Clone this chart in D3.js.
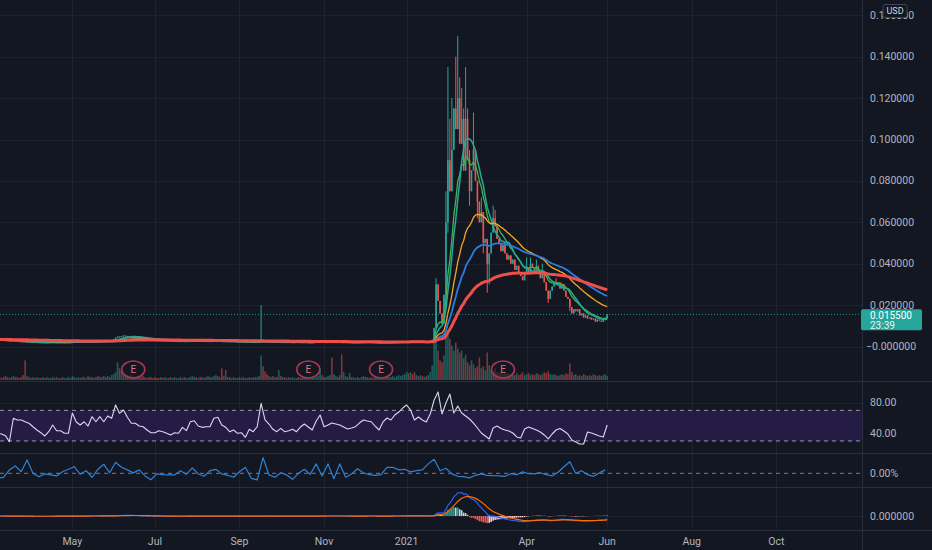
<!DOCTYPE html>
<html><head><meta charset="utf-8">
<script src="https://cdn.jsdelivr.net/npm/d3@7"></script>
<style>html,body{margin:0;padding:0;background:#131722;overflow:hidden}</style>
</head><body><svg id="c" width="932" height="550"></svg>
<script>
// ---------------- DATA ----------------
// daily closes (USD), first bar = 2020-03-09, last bar = 2021-06-01
const closes = [
 .0034,.0033,.0031,.0030,.0029,.0027,.0025,.0027,.0028,.0027,.0026,.0025,.0024,.0023,.0022,.0022,.0021,.0021,.0020,
 .0021,.0020,.0020,.0019,.0019,.0018,.0019,.0020,.0020,.0021,
 .0020,.0020,.0019,.0020,.0019,.0019,.0020,.0019,.0020,.0023,
 .0022,.0022,.0023,.0022,.0023,.0022,.0024,.0023,.0024,.0025,
 .0024,.0026,.0025,.0026,.0025,.0027,.0026,.0027,.0028,
 .0030,.0034,.0042,.0048,.0045,.0050,.0053,.0049,.0051,.0047,
 .0048,.0045,.0046,.0043,.0042,.0040,.0039,.0037,
 .0035,.0034,.0033,.0032,.0031,.0030,.0029,.0029,.0028,.0028,
 .0028,.0027,.0027,.0027,.0026,.0026,.0026,.0025,.0026,.0025,
 .0025,.0026,.0027,.0027,.0028,.0027,.0027,.0026,.0027,.0026,
 .0026,.0026,.0025,.0026,.0027,.0028,.0027,.0026,.0025,.0025,
 .0024,.0024,.0024,.0023,.0024,.0023,.0023,.0023,.0022,.0022,
 .0021,.0022,.0022,.0021,.0022,.0022,.0022,.0023,
 .0028,
 .0026,.0025,.0024,.0023,.0023,.0022,.0022,.0021,.0022,.0021,
 .0021,.0021,.0020,.0021,.0020,.0020,.0020,.0021,.0020,.0020,
 .0019,.0020,.0020,.0019,.0019,.0020,.0021,.0022,.0023,.0024,
 .0022,.0021,.0021,.0021,.0022,.0021,.0021,.0021,.0020,.0021,
 .0020,.0020,.0020,.0019,.0020,.0019,.0019,.0019,.0020,.0020,
 .0021,.0021,.0020,.0021,.0020,.0020,.0019,.0019,.0018,.0018,
 .0019,.0019,.0020,.0019,.0020,.0020,.0021,.0021,.0022,.0022,
 .0023,.0024,.0025,.0026,.0025,.0025,.0023,.0022,.0023,.0022,
 .0022,.0021,.0022,.0021,.0022,
 .0024,.0032,.0090,.0300,.0220,.0160,.0110,.0250,.0600,.0900,
 .0750,.0950,.1150,.1050,.1200,.0980,.1100,.0850,.1100,.0900,
 .0750,.0850,.0950,.0800,.0700,.0600,.0650,.0500,.0520,.0400,
 .0450,.0550,.0620,.0580,.0520,.0500,.0460,.0490,.0450,.0420,
 .0440,.0400,.0420,.0370,.0390,.0360,.0340,.0320,.0350,.0380,
 .0360,.0400,.0380,.0360,.0390,.0350,.0330,.0360,.0310,.0270,
 .0230,.0270,.0290,.0310,.0300,.0310,.0280,.0300,.0270,.0240,
 .0230,.0190,.0160,.0180,.0170,.0180,.0150,.0160,.0140,.0150,
 .0135,.0140,.0130,.0135,.0120,.0130,.0125,.0120,.0130,.0135,
 .0155
];
// notable wick extremes: [bar, high, low]
const wicks = [
 [134,.0200,null],[223,.0330,null],[228,.0750,.0220],[229,.1350,.0550],[230,.1100,null],
 [231,.1200,null],[233,.1400,null],[234,.1500,null],[235,.1300,null],[236,.1250,null],
 [237,.1150,null],[238,.1350,null],[239,.1150,null],[240,.0950,.0680],[242,.1130,null],
 [244,null,.0620],[246,.0720,null],[247,null,.0450],[249,null,.0260],[250,null,.0300],
 [252,.0680,null],[253,.0660,null],[269,.0430,null],[271,.0430,null],[274,.0420,null],
 [277,.0400,null],[280,null,.0210],[284,.0330,null],[291,null,.0170]
];
const volume = [
 3,3,2,3,4,3,2,3,4,3,3,2,3,5,20,4,3,2,3,2,
 3,2,2,3,2,3,2,2,3,2,3,2,2,3,2,2,3,2,4,3,
 2,3,2,3,3,2,4,3,3,2,3,4,3,3,4,3,4,3,5,6,
 8,18,12,10,7,6,5,4,5,4,3,4,3,3,4,3,2,3,3,2,
 3,2,2,3,2,3,2,2,3,2,3,2,2,3,2,3,2,2,3,4,
 3,3,2,3,3,2,3,4,3,3,4,5,4,3,12,4,10,3,3,2,
 3,2,2,3,2,3,2,2,3,2,3,3,3,4,25,14,9,6,4,3,
 4,3,3,10,4,3,3,2,3,2,3,2,2,3,2,3,2,2,3,2,
 3,2,3,4,12,5,3,3,4,5,23,6,4,3,5,26,8,4,3,7,
 3,3,2,3,2,3,4,3,3,2,3,2,3,2,3,2,3,3,4,3,
 3,4,3,4,5,4,5,6,8,7,8,6,8,5,4,5,4,3,4,5,
 8,15,40,45,30,20,18,25,45,50,42,35,30,38,32,28,30,22,26,18,
 15,20,16,12,14,23,12,14,10,28,15,10,9,12,8,7,8,6,7,6,
 7,5,6,5,7,5,6,8,5,6,7,5,6,5,7,6,5,6,8,7,
 9,6,5,6,5,4,5,6,5,7,6,17,8,5,6,4,5,4,6,5,
 4,5,4,6,5,4,5,4,5,6,4
];
// RSI, every 2nd bar
const rsi = [
 40,39.1,36.9,29.0,59.6,57.4,57.4,55.1,53.1,48.6,
 44.3,40.8,36.5,42.1,50.8,43.4,43.4,40,40,66.5,
 54.8,50.8,55.1,49.5,61.7,55.1,61.7,55.1,62.6,59.6,
 77.0,66.1,70.4,60.9,53.1,53.1,49.5,48.6,44.3,40.8,
 40.8,43.4,42.1,40,37.8,40.8,40,47.8,43.4,55.1,
 56.4,49.5,47.8,48.6,48.6,59.6,60.9,50.8,47.8,42.1,
 44.3,40,40.8,34.8,45.2,42.1,48.6,79.2,57.4,52.1,
 45.2,42.1,46.5,42.1,43.4,45.2,42.1,48.2,52.1,48.2,
 44.3,56.1,63.9,48.6,50.8,53.4,52.1,50.8,48.2,45.6,
 46.9,48.6,53.4,57.4,56.1,55.1,49.5,44.3,54.8,60.0,
 57.4,63.9,67.8,73.0,77.0,70.4,57.4,61.3,57.4,54.8,
 65.2,83.5,93.9,65.2,79.6,91.3,66.5,75.6,66.5,62.6,
 58.7,53.4,46.9,40.4,36.5,32.6,46.9,49.5,46.3,44.3,
 43.0,40.4,35.2,33.9,45.6,48.2,46.3,44.3,41.7,37.8,
 32.6,39.1,44.3,46.3,43.0,39.1,31.3,28.6,26.0,26.0,
 41.7,40.4,38.4,36.5,35.2,50.8
];
// second oscillator (%), every 3rd bar
const osc = [
 -2.5,-2.0,1.7,3.7,0.8,6.7,0.0,-1.7,-0.3,-0.8,
 -1.3,0.8,2.0,3.3,-0.5,1.3,-2.0,2.0,4.5,0.3,
 5.5,3.0,1.7,0.2,1.7,-1.3,-3.2,-0.3,-0.7,-0.8,
 -0.8,1.3,-0.5,2.7,-0.2,-1.5,1.3,2.0,-0.3,-1.0,
 -2.0,0.8,3.0,-2.5,-3.3,7.8,-0.8,-2.0,0.3,-0.8,
 -3.0,0.0,2.0,-0.5,4.7,-1.3,4.7,-2.7,4.7,-2.0,
 -0.3,2.3,0.3,-0.7,-1.0,-0.7,3.0,3.0,1.7,2.0,
 0.7,1.3,1.7,4.7,7.0,1.3,2.5,-0.3,-1.5,-1.7,
 -2.3,-1.0,-0.3,-1.0,-1.2,-1.3,-1.5,-0.2,-0.7,0.7,
 -0.2,-0.3,0.3,-0.7,-1.3,0.5,3.3,5.8,0.0,1.3,
 -0.7,-1.5,0.2,1.7
];
const earnings = ["2020-06-16","2020-10-21","2020-12-14","2021-03-16"];
const priceTicks = [0,.02,.04,.06,.08,.10,.12,.14,.16];
const priceTickLabels = ["\u22120.000000","0.020000","0.040000","0.060000","0.080000","0.100000","0.120000","0.140000","0.160000"];
const monthTicks = [["2020-05-01","May"],["2020-07-01","Jul"],["2020-09-01","Sep"],["2020-11-01","Nov"],["2021-01-01","2021"],["2021-04-01","Apr"],["2021-06-01","Jun"],["2021-08-01","Aug"],["2021-10-01","Oct"]];
const holidays = ["2020-04-10","2020-05-25","2020-07-03","2020-09-07","2020-11-26","2020-12-25","2021-01-01","2021-01-18","2021-02-15","2021-04-02","2021-05-31","2021-07-05","2021-09-06","2021-11-25","2021-12-24"];
const lastPrice = 0.0155, lastPriceLabel = "0.015500", countdown = "23:39";

// ---------------- SETUP ----------------
const W = 932, H = 550, AX = 862;
const BG = "#131722", GRID = "#1e222d", SEP = "#2a2e39", TXT = "#b2b5be";
const UP = "#26a69a", DN = "#ef5350";
const FONT = "Roboto, 'Liberation Sans', sans-serif";
const svg = d3.select("#c");
svg.append("rect").attr("width", W).attr("height", H).attr("fill", BG);

const pf = d3.timeParse("%Y-%m-%d"), ff = d3.timeFormat("%Y-%m-%d");
const hol = new Set(holidays);
const days = d3.timeDay.range(new Date(2020,2,9), new Date(2021,11,31))
  .filter(d => d.getDay() % 6 !== 0 && !hol.has(ff(d)));
const dayIndex = s => d3.bisector(d => d).left(days, pf(s));

const n = closes.length;
const x = d3.scaleLinear().domain([0, n - 1]).range([-2.4, 607.2]);

const panes = {
  main: [0, 381], rsi: [381, 453], osc: [453, 487], macd: [487, 530]
};
const defs = svg.append("defs");
Object.entries(panes).forEach(([k, [a, b]]) => {
  defs.append("clipPath").attr("id", "cl-" + k).append("rect")
    .attr("x", 0).attr("y", a).attr("width", AX).attr("height", b - a);
});
const layer = k => svg.append("g").attr("clip-path", `url(#cl-${k})`);

const yP = d3.scaleLinear().domain([0, 0.14]).range([346.5, 56.7]);
const yV = d3.scaleLinear().domain([0, d3.max(volume)]).range([380, 331]);
const yR = d3.scaleLinear().domain([40, 80]).range([433.3, 402.7]);
const yO = d3.scaleLinear().domain([0, 8]).range([473.3, 457.3]);

// ---------------- GRID ----------------
const grid = svg.append("g");
monthTicks.forEach(([d]) => {
  const xx = Math.round(x(dayIndex(d))) + 0.5;
  grid.append("line").attr("x1", xx).attr("x2", xx).attr("y1", 0).attr("y2", 530)
    .attr("stroke", GRID).attr("stroke-width", 1);
});
priceTicks.forEach(v => {
  const yy = Math.round(yP(v)) + 0.5;
  grid.append("line").attr("x1", 0).attr("x2", AX).attr("y1", yy).attr("y2", yy)
    .attr("stroke", GRID);
});
[80, 40].forEach(v => grid.append("line").attr("x1", 0).attr("x2", AX)
  .attr("y1", Math.round(yR(v)) + .5).attr("y2", Math.round(yR(v)) + .5).attr("stroke", GRID));
grid.append("line").attr("x1", 0).attr("x2", AX).attr("y1", 516.5).attr("y2", 516.5).attr("stroke", GRID);

// ---------------- MAIN PANE ----------------
const gm = layer("main");
const wm = new Map(wicks.map(w => [w[0], w]));
const bars = closes.map((c, i) => {
  const o = i ? closes[i - 1] : c;
  const w = wm.get(i) || [i, null, null];
  const h = Math.max(o, c, w[1] == null ? -1 : w[1]);
  const l = Math.min(o, c, w[2] == null ? 9 : w[2]);
  return { i, o, c, h, l, up: c >= o };
});
// volume
gm.append("g").selectAll("rect").data(bars).join("rect")
  .attr("x", d => x(d.i) - 0.8).attr("width", 1.6)
  .attr("y", d => yV(volume[d.i])).attr("height", d => 380 - yV(volume[d.i]))
  .attr("fill", d => d.up ? UP : DN).attr("opacity", 0.5);
// wicks
gm.append("g").selectAll("line").data(bars).join("line")
  .attr("x1", d => x(d.i)).attr("x2", d => x(d.i))
  .attr("y1", d => yP(d.h)).attr("y2", d => yP(d.l))
  .attr("stroke", d => d.up ? UP : DN).attr("stroke-width", 1);
// bodies
gm.append("g").selectAll("rect").data(bars).join("rect")
  .attr("x", d => x(d.i) - 0.8).attr("width", 1.6)
  .attr("y", d => yP(Math.max(d.o, d.c)))
  .attr("height", d => Math.max(1, Math.abs(yP(d.o) - yP(d.c))))
  .attr("fill", d => d.up ? UP : DN);

// moving averages
function ema(src, p) { const a = 2 / (p + 1); let prev; return src.map((v, i) => (prev = i ? a * v + (1 - a) * prev : v)); }
function sma(src, p) { return src.map((v, i) => d3.mean(src.slice(Math.max(0, i - p + 1), i + 1))); }
const maDefs = [
  { vals: ema(closes, 10), color: "#4caf50", w: 1.3 },
  { vals: sma(closes, 10), color: "#22ab94", w: 1.5 },
  { vals: ema(closes, 30), color: "#f5a623", w: 1.3 },
  { vals: ema(closes, 50), color: "#2a7de1", w: 1.8 },
  { vals: ema(closes, 100), color: "#ef4f4a", w: 3 }
];
const lineP = d3.line().x((d, i) => x(i)).y(d => yP(d)).curve(d3.curveLinear);
maDefs.forEach(m => gm.append("path").attr("d", lineP(m.vals)).attr("fill", "none")
  .attr("stroke", m.color).attr("stroke-width", m.w).attr("stroke-linejoin", "round"));

// earnings markers
earnings.forEach(d => {
  const cx = x(dayIndex(d)), cy = 369.5;
  const g = gm.append("g");
  g.append("ellipse").attr("cx", cx).attr("cy", cy).attr("rx", 11.5).attr("ry", 8.5)
    .attr("fill", BG).attr("fill-opacity", 0.55).attr("stroke", "#a8374f").attr("stroke-width", 1.6);
  g.append("text").attr("x", cx).attr("y", cy + 3.5).attr("text-anchor", "middle")
    .attr("font-family", FONT).attr("font-size", 10).attr("fill", "#e06f86").text("E");
});

// last price dotted line
svg.append("line").attr("x1", 0).attr("x2", AX).attr("y1", yP(lastPrice)).attr("y2", yP(lastPrice))
  .attr("stroke", UP).attr("stroke-dasharray", "1,2").attr("opacity", 0.85);

// ---------------- RSI PANE ----------------
const gr = layer("rsi");
gr.append("rect").attr("x", 0).attr("width", AX).attr("y", yR(70)).attr("height", yR(30) - yR(70))
  .attr("fill", "#251c45");
[70, 30].forEach(v => gr.append("line").attr("x1", 0).attr("x2", AX).attr("y1", yR(v)).attr("y2", yR(v))
  .attr("stroke", "#b8bac4").attr("stroke-dasharray", "4,4").attr("opacity", 0.8));
gr.append("path").attr("d", d3.line().x((d, k) => x(2 * k)).y(d => yR(d))(rsi))
  .attr("fill", "none").attr("stroke", "#ddd5f2").attr("stroke-width", 1.1).attr("stroke-linejoin", "round");

// ---------------- OSC PANE ----------------
const go = layer("osc");
go.append("line").attr("x1", 0).attr("x2", AX).attr("y1", yO(0)).attr("y2", yO(0))
  .attr("stroke", "#787b86").attr("stroke-dasharray", "4,4");
go.append("path").attr("d", d3.line().x((d, j) => x(3 * j)).y(d => yO(d))(osc))
  .attr("fill", "none").attr("stroke", "#2f82d6").attr("stroke-width", 1.2).attr("stroke-linejoin", "round");

// ---------------- MACD PANE ----------------
const gc = layer("macd");
const e12 = ema(closes, 12), e26 = ema(closes, 26);
const macd = e12.map((v, i) => v - e26[i]);
const signal = ema(macd, 9);
const hist = macd.map((v, i) => v - signal[i]);
const yM = d3.scaleLinear().domain([0, d3.max(macd)]).range([516, 492.5]);
gc.append("g").selectAll("rect").data(hist).join("rect")
  .attr("x", (d, i) => x(i) - 0.8).attr("width", 1.6)
  .attr("y", d => Math.min(yM(d), yM(0))).attr("height", d => Math.abs(yM(d) - yM(0)))
  .attr("fill", (d, i) => {
    const p = i ? hist[i - 1] : d;
    return d >= 0 ? (d >= p ? "#26a69a" : "#b2dfdb") : (d < p ? "#ff5252" : "#ffcdd2");
  });
const lineM = d3.line().x((d, i) => x(i)).y(d => yM(d));
gc.append("path").attr("d", lineM(macd)).attr("fill", "none").attr("stroke", "#2962ff").attr("stroke-width", 1.2);
gc.append("path").attr("d", lineM(signal)).attr("fill", "none").attr("stroke", "#ff6d00").attr("stroke-width", 1.2);

// ---------------- SEPARATORS ----------------
[381.5, 453.5, 487.5, 530.5].forEach(yy => svg.append("line").attr("x1", 0).attr("x2", W)
  .attr("y1", yy).attr("y2", yy).attr("stroke", SEP));
svg.append("line").attr("x1", AX + .5).attr("x2", AX + .5).attr("y1", 0).attr("y2", H).attr("stroke", SEP);

// ---------------- AXIS LABELS ----------------
const txt = (xx, yy, s, opts = {}) => svg.append("text").attr("x", xx).attr("y", yy)
  .attr("font-family", FONT).attr("font-size", opts.size || 10.5).attr("fill", opts.fill || TXT)
  .attr("text-anchor", opts.anchor || "start").attr("dominant-baseline", "central").text(s);

priceTicks.forEach((v, i) => txt(v < 0.001 ? 866 : 870, yP(v), priceTickLabels[i]));
// USD badge
svg.append("rect").attr("x", 883).attr("y", 4.5).attr("width", 24).attr("height", 13).attr("rx", 2)
  .attr("fill", BG).attr("stroke", "#434651");
txt(895, 11, "USD", { anchor: "middle", size: 9, fill: "#d1d4dc" });
// last price badge
const ly = yP(lastPrice);
svg.append("rect").attr("x", 861).attr("y", ly - 5.2).attr("width", 61).attr("height", 21).attr("rx", 2).attr("fill", UP);
txt(870, ly + 1, lastPriceLabel, { fill: "#ffffff", size: 10 });
txt(870, ly + 10.8, countdown, { fill: "#e8f5f3", size: 10 });

txt(870, yR(80), "80.00");
txt(870, yR(40), "40.00");
txt(870, yO(0), "0.00%");
txt(870, yM(0), "0.000000");

monthTicks.forEach(([d, lab]) => txt(x(dayIndex(d)), 541, lab, { anchor: "middle" }));
</script>
</body></html>
